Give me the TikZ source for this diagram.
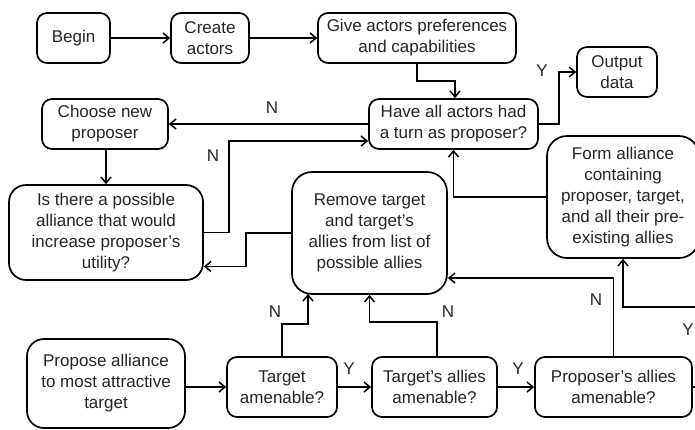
\documentclass[tikz,border=0pt]{standalone}
\usepackage{fontspec}
\setmainfont{Liberation Sans}
\usetikzlibrary{arrows.meta,calc}
\tikzset{
  box/.style={draw, line width=1.7pt, rounded corners=10pt, align=center, inner sep=0pt,
    font=\fontsize{17}{21}\selectfont, text=black!85},
  bigbox/.style={box, rounded corners=20pt},
  arr/.style={line width=1.7pt, -{Straight Barb[length=6pt,width=10pt,line width=1.5pt]}},
  lbl/.style={font=\fontsize{17}{21}\selectfont, text=black!85, inner sep=0pt}
}
\begin{document}
\begin{tikzpicture}[x=1pt,y=-1pt]
\useasboundingbox (0,0) rectangle (695,429);
\clip (0,0) rectangle (695,429);
\fill[white] (0,0) rectangle (695,429);
% nodes
\node[box, minimum width=73pt, minimum height=50pt] (begin) at (73.5,38) {Begin};
\node[box, minimum width=78pt, minimum height=50pt] (create) at (210,38) {Create\\actors};
\node[box, minimum width=198pt, minimum height=50pt] (give) at (417,38) {Give actors preferences\\and capabilities};
\node[box, minimum width=80pt, minimum height=50pt] (output) at (617,72) {Output\\data};
\node[box, minimum width=169pt, minimum height=50pt] (have) at (453.5,124) {Have all actors had\\a turn as proposer?};
\node[box, minimum width=126pt, minimum height=50pt] (choose) at (105,124) {Choose new\\proposer};
\node[box, rounded corners=17pt, minimum width=194pt, minimum height=95pt] (isthere) at (106,232.5) {Is there a possible\\alliance that would\\increase proposer’s\\utility?};
\node[bigbox, minimum width=155pt, minimum height=122pt] (remove) at (369.5,233) {Remove target\\and target’s\\allies from list of\\possible allies};
\node[bigbox, minimum width=152pt, minimum height=122pt] (form) at (623,197) {Form alliance\\containing\\proposer, target,\\and all their pre-\\existing allies};
\node[box, rounded corners=17pt, minimum width=158pt, minimum height=89pt] (propose) at (106,383.5) {Propose alliance\\to most attractive\\target};
\node[box, minimum width=110pt, minimum height=60pt] (tamen) at (282,387) {Target\\amenable?};
\node[box, minimum width=125pt, minimum height=60pt] (tallies) at (434.5,387) {Target’s allies\\amenable?};
\node[box, minimum width=157pt, minimum height=60pt] (pallies) at (613.5,387) {Proposer’s allies\\amenable?};
% connectors
\draw[arr] (begin) -- (create);
\draw[arr] (create) -- (give);
\draw[arr] (give.south) -- ++(0,17) -| ($(have.north)+(1.5,0)$);
\draw[arr] (have.east) -- ++(20,0) |- (output.west);
\node[lbl] (ly1) at (542,71) {Y};
\draw[arr] (have.west) -- (choose.east);
\node[lbl] (ln1) at (272,108) {N};
\draw[arr] ($(choose.south)+(1,0)$) -- ($(choose.south |- isthere.north)+(1,0)$);
\draw[arr] (isthere.east) -- ++(25,0) |- ($(have.west)+(0,17)$);
\node[lbl] (ln2) at (213,156) {N};
\draw[arr] (remove.west) -- ++(-45,0) |- ($(isthere.east)+(0,34)$);
\draw[arr] (form.west) -| (have.south);
\draw[arr] (propose.east |- tamen.west) -- (tamen.west);
\draw[arr] (tamen.east) -- (tallies.west);
\node[lbl] (ly2) at (349,369) {Y};
\draw[arr] (tallies.east) -- (pallies.west);
\node[lbl] (ly3) at (518,369) {Y};
\draw[arr] (tamen.north) -- ++(0,-32) -| ($(remove.south)+(-61.5,-1)$);
\node[lbl] (ln3) at (275,312) {N};
\draw[arr] ($(tallies.north)+(2.5,0)$) -- ++(0,-34) -| (remove.south);
\node[lbl] (ln4) at (448,312) {N};
\draw[arr] (pallies.north) |- ($(remove.east)+(0,45)$);
\node[lbl] (ln5) at (596,300) {N};
\draw[arr] (pallies.east) -- ++(14,0) -- ++(0,-80) -| (form.south);
\node[lbl] (ly4) at (688,330) {Y};
\end{tikzpicture}
\end{document}
